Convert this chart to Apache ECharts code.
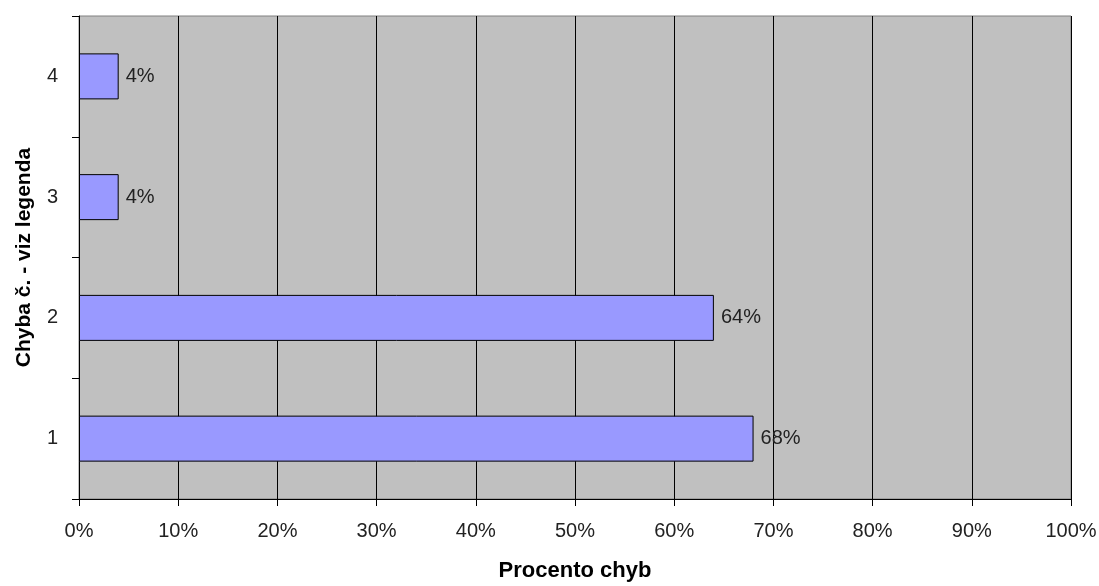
<!DOCTYPE html>
<html>
<head>
<meta charset="utf-8">
<script src="https://cdn.jsdelivr.net/npm/echarts@6/dist/echarts.min.js"></script>
<style>html,body{margin:0;padding:0;background:#fff;}#c{width:1099px;height:586px;}</style>
</head>
<body>
<div id="c"></div>
<script>
const categories = ['1', '2', '3', '4'];
const values = [0.68, 0.64, 0.04, 0.04];
const xTicks = ['0%', '10%', '20%', '30%', '40%', '50%', '60%', '70%', '80%', '90%', '100%'];
const xTitle = 'Procento chyb';
const yTitle = 'Chyba č. - viz legenda';

const font = '"Liberation Sans", Arial, sans-serif';
const chart = echarts.init(document.getElementById('c'), null, {renderer: 'canvas'});
chart.setOption({
  animation: false,
  grid: {
    left: 79, right: 28, top: 16, bottom: 87,
    outerBoundsMode: 'none',
    show: true, backgroundColor: '#C0C0C0', borderColor: '#808080', borderWidth: 1
  },
  xAxis: {
    type: 'value', min: 0, max: 1, interval: 0.1,
    name: xTitle, nameLocation: 'middle', nameGap: 61,
    nameTextStyle: {fontFamily: font, fontSize: 22, fontWeight: 'bold', color: '#000'},
    axisLine: {show: true, lineStyle: {color: '#000', width: 1}},
    axisTick: {show: true, length: 7, lineStyle: {color: '#000'}},
    axisLabel: {
      margin: 22, fontFamily: font, fontSize: 20, color: '#222',
      formatter: function (v) { return xTicks[Math.round(v * 10)]; }
    },
    splitLine: {show: true, lineStyle: {color: '#000', width: 1}}
  },
  yAxis: {
    type: 'category', data: categories,
    name: yTitle, nameLocation: 'middle', nameGap: 44, nameRotate: 90,
    nameTextStyle: {fontFamily: font, fontSize: 21, fontWeight: 'bold', color: '#000'},
    axisLine: {show: true, lineStyle: {color: '#000', width: 1}},
    axisTick: {show: true, length: 7, alignWithLabel: false, lineStyle: {color: '#000'}},
    axisLabel: {margin: 21, fontFamily: font, fontSize: 20, color: '#222'},
    splitLine: {show: false}
  },
  series: [{
    type: 'bar',
    data: values,
    barWidth: 46,
    itemStyle: {color: '#9999FF', borderColor: '#000', borderWidth: 1},
    label: {
      show: true, position: 'right', distance: 7,
      fontFamily: font, fontSize: 20, color: '#222',
      formatter: function (p) { return Math.round(p.value * 100) + '%'; }
    }
  }]
});
</script>
</body>
</html>
